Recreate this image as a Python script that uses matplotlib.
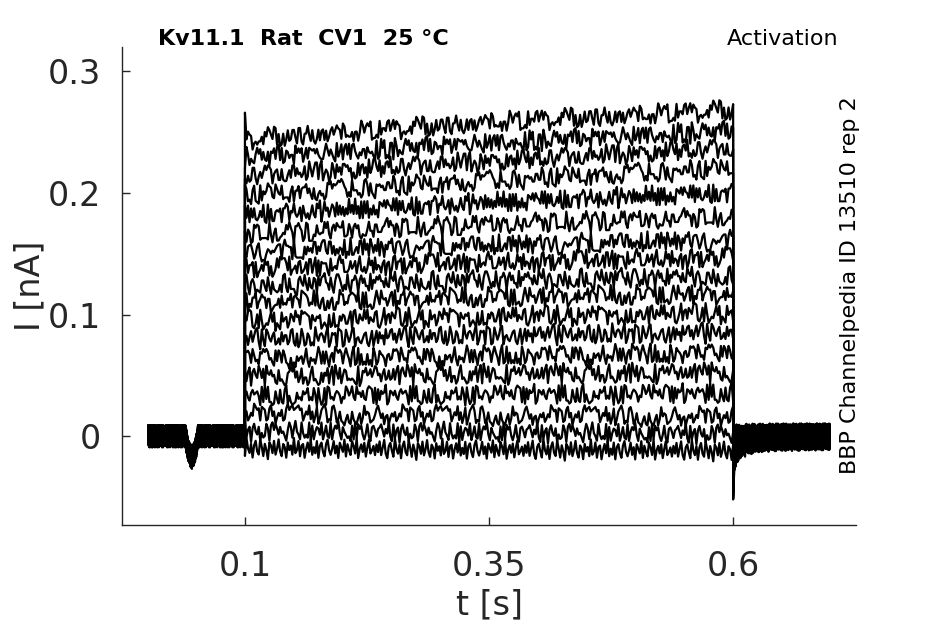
import numpy as np
import matplotlib
matplotlib.use("Agg")
import matplotlib.pyplot as plt

# step pulse timing [s]
t_start = 0.0
t_on = 0.1
t_off = 0.6
t_end = 0.7

# plateau current of each sweep [nA] read at start, middle and end of the step
level_start = [-0.010, 0.004, 0.018, 0.033, 0.049, 0.064, 0.080, 0.095, 0.110,
               0.124, 0.138, 0.152, 0.166, 0.182, 0.198, 0.214, 0.229, 0.244]
level_mid = [-0.011, 0.003, 0.017, 0.034, 0.051, 0.066, 0.083, 0.098, 0.114,
             0.128, 0.143, 0.157, 0.174, 0.192, 0.210, 0.226, 0.241, 0.258]
level_end = [-0.012, 0.002, 0.016, 0.035, 0.052, 0.068, 0.085, 0.101, 0.117,
             0.131, 0.147, 0.161, 0.180, 0.200, 0.220, 0.237, 0.251, 0.268]

# noise template [pA], shared by all sweeps
noise_pa = [3, -2, 5, -4, 1, 6, -3, -6, 2, 4, -1, -5, 7, 0, -3, 3, -6, 2, 5, -2,
            -4, 6, 1, -5, 3, -1, -7, 4, 2, -3, 5, -4, 0, 6, -2, -5, 3, 1, -6, 4,
            -1, 2, -4, 7, -3, -1, 5, -5, 2, 3, -6, 0, 4, -2, 6, -4, 1, -3, 5, -6,
            2, 4, -2, -5, 3, 6, -1, -4, 0, 5, -3, 2, -6, 4, 1, -2, 6, -5, 3, -1,
            -4, 5, 2, -3, 7, -6, 0, 3, -2, 4, -5, 1, 6, -3, -1, 2, -4]
strides = [1, 2, 3, 4, 5, 6, 7, 8, 9, 10, 11, 12, 13, 14, 15, 16, 17, 18]

# small dip in the holding current before the step
dip_t = [0.039, 0.042, 0.0455, 0.049, 0.052]
dip_i = [0.0, -0.012, -0.018, -0.013, 0.0]

# transient after the step ends (largest sweep)
tail_t = [0.6, 0.6006, 0.602, 0.605, 0.61, 0.62, 0.64, 0.7]
tail_i = [-0.052, -0.030, -0.018, -0.011, -0.007, -0.004, -0.002, -0.001]
onset_spike = 0.022

noise = np.array(noise_pa) / 1000.0
n_noise = len(noise)
n_sweeps = len(level_start)

fig = plt.figure(figsize=(9.45, 6.24), dpi=100)
ax = fig.add_axes([0.129, 0.1587, 0.777, 0.766])

t_pre = np.linspace(t_start + 0.001, t_on, 400)
t_step = np.linspace(t_on, t_off, 320)
t_post = np.linspace(t_off, t_end - 0.001, 400)

for k in range(n_sweeps):
    s = strides[k]
    idx_pre = (np.arange(len(t_pre)) * s + 3 * k) % n_noise
    idx_step = (np.arange(len(t_step)) * s + 7 * k + 11) % n_noise
    idx_post = (np.arange(len(t_post)) * s + 5 * k + 29) % n_noise

    pre = noise[idx_pre] * 1.3 + np.interp(t_pre, dip_t, dip_i)
    lev = np.interp(t_step, [t_on, 0.35, t_off], [level_start[k], level_mid[k], level_end[k]])
    step = lev + noise[idx_step] * 1.25
    if k == n_sweeps - 1:
        step[0] = level_start[k] + onset_spike
    frac = (k + 1) / n_sweeps
    post = noise[idx_post] * 1.5 + np.interp(t_post, tail_t, tail_i) * frac
    post[0] = tail_i[0] * frac

    t_all = np.concatenate([t_pre, t_step, t_post])
    i_all = np.concatenate([pre, step, post])
    ax.plot(t_all, i_all, color='black', lw=1.6)

ax.set_xlim(-0.026, 0.726)
ax.set_ylim(-0.073, 0.32)
ax.set_xticks([0.1, 0.35, 0.6])
ax.set_xticklabels(['0.1', '0.35', '0.6'])
ax.set_yticks([0, 0.1, 0.2, 0.3])
ax.set_yticklabels(['0', '0.1', '0.2', '0.3'])

for side in ['top', 'right']:
    ax.spines[side].set_visible(False)
for side in ['left', 'bottom']:
    ax.spines[side].set_color('#262626')
    ax.spines[side].set_linewidth(1.0)
ax.tick_params(direction='in', length=6, width=1, colors='#262626', labelsize=24)
ax.tick_params(axis='x', pad=18)
ax.tick_params(axis='y', pad=15)

ax.set_xlabel('t [s]', fontsize=24, color='#262626', labelpad=4)
ax.set_ylabel('I [nA]', fontsize=24, color='#262626', labelpad=1)

fig.text(0.167, 0.937, 'Kv11.1  Rat  CV1  25 °C', fontsize=16, fontweight='bold', ha='left', va='center')
fig.text(0.887, 0.937, 'Activation', fontsize=16, ha='right', va='center')
fig.text(0.899, 0.543, 'BBP Channelpedia ID 13510 rep 2', fontsize=16, rotation=90, ha='center', va='center')

fig.savefig('out.png', dpi=100)
